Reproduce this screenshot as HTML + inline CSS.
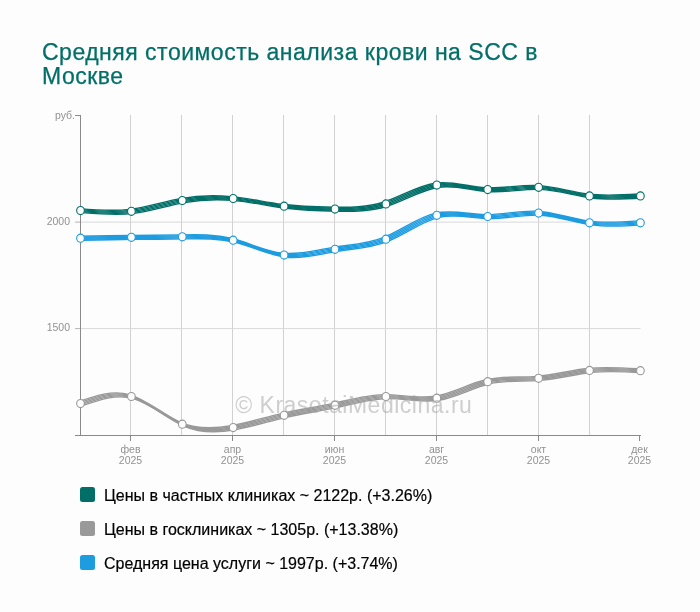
<!DOCTYPE html>
<html><head><meta charset="utf-8"><title>chart</title>
<style>
html,body{margin:0;padding:0;background:#fdfdfd;}
body{width:700px;height:612px;position:relative;overflow:hidden;font-family:"Liberation Sans",sans-serif;}
#wrap{position:absolute;left:0;top:0;width:700px;height:612px;opacity:0.999;will-change:transform;}
.title{position:absolute;left:42px;top:41.3px;width:560px;font-size:23px;letter-spacing:0.5px;line-height:23.4px;color:#006f68;-webkit-text-stroke:0.25px #006f68;}
.leg{position:absolute;left:80px;height:15px;font-size:16px;line-height:15px;color:#000;-webkit-text-stroke:0.2px #000;white-space:nowrap;}
.leg i{position:absolute;left:0;top:0;width:15px;height:15px;border-radius:2.5px;display:block;}
.leg span{position:absolute;left:24px;top:1px;}
</style></head><body><div id="wrap">
<svg width="700" height="612" viewBox="0 0 700 612" style="position:absolute;left:0;top:0"><g stroke="#d1d1d1" stroke-width="1" shape-rendering="crispEdges"><line x1="130.5" y1="115" x2="130.5" y2="435"/><line x1="181.5" y1="115" x2="181.5" y2="435"/><line x1="232.5" y1="115" x2="232.5" y2="435"/><line x1="283.5" y1="115" x2="283.5" y2="435"/><line x1="334.5" y1="115" x2="334.5" y2="435"/><line x1="385.5" y1="115" x2="385.5" y2="435"/><line x1="436.5" y1="115" x2="436.5" y2="435"/><line x1="487.5" y1="115" x2="487.5" y2="435"/><line x1="538.5" y1="115" x2="538.5" y2="435"/><line x1="589.5" y1="115" x2="589.5" y2="435"/></g><g stroke-width="1"><line x1="81" y1="222.1" x2="640.5" y2="222.1" stroke="#d9d9d9"/><line x1="75" y1="222.1" x2="80" y2="222.1" stroke="#b5b5b5"/><line x1="81" y1="328.6" x2="640.5" y2="328.6" stroke="#d9d9d9"/><line x1="75" y1="328.6" x2="80" y2="328.6" stroke="#b5b5b5"/></g><g stroke="#8a8a8a" stroke-width="1" fill="none" shape-rendering="crispEdges"><path d="M75,115.5H80.5V435.5"/><path d="M75,435.5H641"/><line x1="130.5" y1="435.5" x2="130.5" y2="440.6"/><line x1="232.5" y1="435.5" x2="232.5" y2="440.6"/><line x1="334.5" y1="435.5" x2="334.5" y2="440.6"/><line x1="436.5" y1="435.5" x2="436.5" y2="440.6"/><line x1="538.5" y1="435.5" x2="538.5" y2="440.6"/><line x1="639.5" y1="435.5" x2="639.5" y2="440.6"/></g><g fill="none" stroke="#999999" stroke-width="1.4" stroke-linecap="round" stroke-linejoin="round"><path transform="translate(-2.00,-1.70)" d="M80.50,403.40C97.47,397.45 114.43,391.50 131.40,396.30C148.37,401.10 165.33,416.65 182.30,424.00C199.27,431.35 216.23,430.49 233.20,427.40C250.17,424.31 267.13,418.98 284.10,415.10C301.07,411.22 318.03,408.78 335.00,405.10C351.97,401.42 368.93,396.49 385.90,396.30C402.87,396.11 419.83,400.66 436.80,398.00C453.77,395.34 470.73,385.46 487.70,381.50C504.67,377.54 521.63,379.48 538.60,378.10C555.57,376.72 572.53,372.02 589.50,370.20C606.47,368.38 623.43,369.44 640.40,370.50"/><path transform="translate(-1.00,-0.70)" d="M80.50,403.40C97.47,397.45 114.43,391.50 131.40,396.30C148.37,401.10 165.33,416.65 182.30,424.00C199.27,431.35 216.23,430.49 233.20,427.40C250.17,424.31 267.13,418.98 284.10,415.10C301.07,411.22 318.03,408.78 335.00,405.10C351.97,401.42 368.93,396.49 385.90,396.30C402.87,396.11 419.83,400.66 436.80,398.00C453.77,395.34 470.73,385.46 487.70,381.50C504.67,377.54 521.63,379.48 538.60,378.10C555.57,376.72 572.53,372.02 589.50,370.20C606.47,368.38 623.43,369.44 640.40,370.50"/><path transform="translate(0.00,0.30)" d="M80.50,403.40C97.47,397.45 114.43,391.50 131.40,396.30C148.37,401.10 165.33,416.65 182.30,424.00C199.27,431.35 216.23,430.49 233.20,427.40C250.17,424.31 267.13,418.98 284.10,415.10C301.07,411.22 318.03,408.78 335.00,405.10C351.97,401.42 368.93,396.49 385.90,396.30C402.87,396.11 419.83,400.66 436.80,398.00C453.77,395.34 470.73,385.46 487.70,381.50C504.67,377.54 521.63,379.48 538.60,378.10C555.57,376.72 572.53,372.02 589.50,370.20C606.47,368.38 623.43,369.44 640.40,370.50"/><path transform="translate(1.00,1.30)" d="M80.50,403.40C97.47,397.45 114.43,391.50 131.40,396.30C148.37,401.10 165.33,416.65 182.30,424.00C199.27,431.35 216.23,430.49 233.20,427.40C250.17,424.31 267.13,418.98 284.10,415.10C301.07,411.22 318.03,408.78 335.00,405.10C351.97,401.42 368.93,396.49 385.90,396.30C402.87,396.11 419.83,400.66 436.80,398.00C453.77,395.34 470.73,385.46 487.70,381.50C504.67,377.54 521.63,379.48 538.60,378.10C555.57,376.72 572.53,372.02 589.50,370.20C606.47,368.38 623.43,369.44 640.40,370.50"/><path transform="translate(2.00,2.30)" d="M80.50,403.40C97.47,397.45 114.43,391.50 131.40,396.30C148.37,401.10 165.33,416.65 182.30,424.00C199.27,431.35 216.23,430.49 233.20,427.40C250.17,424.31 267.13,418.98 284.10,415.10C301.07,411.22 318.03,408.78 335.00,405.10C351.97,401.42 368.93,396.49 385.90,396.30C402.87,396.11 419.83,400.66 436.80,398.00C453.77,395.34 470.73,385.46 487.70,381.50C504.67,377.54 521.63,379.48 538.60,378.10C555.57,376.72 572.53,372.02 589.50,370.20C606.47,368.38 623.43,369.44 640.40,370.50"/></g><g fill="#fdfdfd" stroke="#999999" stroke-width="1.1"><ellipse cx="80.50" cy="403.60" rx="3.85" ry="4.05"/><ellipse cx="131.40" cy="396.50" rx="3.85" ry="4.05"/><ellipse cx="182.30" cy="424.20" rx="3.85" ry="4.05"/><ellipse cx="233.20" cy="427.60" rx="3.85" ry="4.05"/><ellipse cx="284.10" cy="415.30" rx="3.85" ry="4.05"/><ellipse cx="335.00" cy="405.30" rx="3.85" ry="4.05"/><ellipse cx="385.90" cy="396.50" rx="3.85" ry="4.05"/><ellipse cx="436.80" cy="398.20" rx="3.85" ry="4.05"/><ellipse cx="487.70" cy="381.70" rx="3.85" ry="4.05"/><ellipse cx="538.60" cy="378.30" rx="3.85" ry="4.05"/><ellipse cx="589.50" cy="370.40" rx="3.85" ry="4.05"/><ellipse cx="640.40" cy="370.70" rx="3.85" ry="4.05"/></g><g fill="none" stroke="#1d9ce0" stroke-width="1.4" stroke-linecap="round" stroke-linejoin="round"><path transform="translate(-2.00,-1.70)" d="M80.50,238.00C97.47,237.65 114.43,237.30 131.40,237.10C148.37,236.90 165.33,236.87 182.30,236.60C199.27,236.33 216.23,235.84 233.20,240.00C250.17,244.16 267.13,252.98 284.10,254.90C301.07,256.82 318.03,251.86 335.00,249.10C351.97,246.34 368.93,245.80 385.90,239.00C402.87,232.20 419.83,219.13 436.80,215.10C453.77,211.07 470.73,216.06 487.70,216.30C504.67,216.54 521.63,212.01 538.60,212.90C555.57,213.79 572.53,220.08 589.50,222.60C606.47,225.12 623.43,223.86 640.40,222.60"/><path transform="translate(-1.00,-0.70)" d="M80.50,238.00C97.47,237.65 114.43,237.30 131.40,237.10C148.37,236.90 165.33,236.87 182.30,236.60C199.27,236.33 216.23,235.84 233.20,240.00C250.17,244.16 267.13,252.98 284.10,254.90C301.07,256.82 318.03,251.86 335.00,249.10C351.97,246.34 368.93,245.80 385.90,239.00C402.87,232.20 419.83,219.13 436.80,215.10C453.77,211.07 470.73,216.06 487.70,216.30C504.67,216.54 521.63,212.01 538.60,212.90C555.57,213.79 572.53,220.08 589.50,222.60C606.47,225.12 623.43,223.86 640.40,222.60"/><path transform="translate(0.00,0.30)" d="M80.50,238.00C97.47,237.65 114.43,237.30 131.40,237.10C148.37,236.90 165.33,236.87 182.30,236.60C199.27,236.33 216.23,235.84 233.20,240.00C250.17,244.16 267.13,252.98 284.10,254.90C301.07,256.82 318.03,251.86 335.00,249.10C351.97,246.34 368.93,245.80 385.90,239.00C402.87,232.20 419.83,219.13 436.80,215.10C453.77,211.07 470.73,216.06 487.70,216.30C504.67,216.54 521.63,212.01 538.60,212.90C555.57,213.79 572.53,220.08 589.50,222.60C606.47,225.12 623.43,223.86 640.40,222.60"/><path transform="translate(1.00,1.30)" d="M80.50,238.00C97.47,237.65 114.43,237.30 131.40,237.10C148.37,236.90 165.33,236.87 182.30,236.60C199.27,236.33 216.23,235.84 233.20,240.00C250.17,244.16 267.13,252.98 284.10,254.90C301.07,256.82 318.03,251.86 335.00,249.10C351.97,246.34 368.93,245.80 385.90,239.00C402.87,232.20 419.83,219.13 436.80,215.10C453.77,211.07 470.73,216.06 487.70,216.30C504.67,216.54 521.63,212.01 538.60,212.90C555.57,213.79 572.53,220.08 589.50,222.60C606.47,225.12 623.43,223.86 640.40,222.60"/><path transform="translate(2.00,2.30)" d="M80.50,238.00C97.47,237.65 114.43,237.30 131.40,237.10C148.37,236.90 165.33,236.87 182.30,236.60C199.27,236.33 216.23,235.84 233.20,240.00C250.17,244.16 267.13,252.98 284.10,254.90C301.07,256.82 318.03,251.86 335.00,249.10C351.97,246.34 368.93,245.80 385.90,239.00C402.87,232.20 419.83,219.13 436.80,215.10C453.77,211.07 470.73,216.06 487.70,216.30C504.67,216.54 521.63,212.01 538.60,212.90C555.57,213.79 572.53,220.08 589.50,222.60C606.47,225.12 623.43,223.86 640.40,222.60"/></g><g fill="#fdfdfd" stroke="#1d9ce0" stroke-width="1.1"><ellipse cx="80.50" cy="238.20" rx="3.85" ry="4.05"/><ellipse cx="131.40" cy="237.30" rx="3.85" ry="4.05"/><ellipse cx="182.30" cy="236.80" rx="3.85" ry="4.05"/><ellipse cx="233.20" cy="240.20" rx="3.85" ry="4.05"/><ellipse cx="284.10" cy="255.10" rx="3.85" ry="4.05"/><ellipse cx="335.00" cy="249.30" rx="3.85" ry="4.05"/><ellipse cx="385.90" cy="239.20" rx="3.85" ry="4.05"/><ellipse cx="436.80" cy="215.30" rx="3.85" ry="4.05"/><ellipse cx="487.70" cy="216.50" rx="3.85" ry="4.05"/><ellipse cx="538.60" cy="213.10" rx="3.85" ry="4.05"/><ellipse cx="589.50" cy="222.80" rx="3.85" ry="4.05"/><ellipse cx="640.40" cy="222.80" rx="3.85" ry="4.05"/></g><g fill="none" stroke="#006f68" stroke-width="1.4" stroke-linecap="round" stroke-linejoin="round"><path transform="translate(-2.00,-1.70)" d="M80.50,210.30C97.47,211.74 114.43,213.19 131.40,211.10C148.37,209.01 165.33,203.39 182.30,200.30C199.27,197.21 216.23,196.65 233.20,198.30C250.17,199.95 267.13,203.82 284.10,206.00C301.07,208.18 318.03,208.66 335.00,208.90C351.97,209.14 368.93,209.15 385.90,203.70C402.87,198.25 419.83,187.36 436.80,184.90C453.77,182.44 470.73,188.43 487.70,189.40C504.67,190.37 521.63,186.33 538.60,187.10C555.57,187.87 572.53,193.46 589.50,195.70C606.47,197.94 623.43,196.82 640.40,195.70"/><path transform="translate(-1.00,-0.70)" d="M80.50,210.30C97.47,211.74 114.43,213.19 131.40,211.10C148.37,209.01 165.33,203.39 182.30,200.30C199.27,197.21 216.23,196.65 233.20,198.30C250.17,199.95 267.13,203.82 284.10,206.00C301.07,208.18 318.03,208.66 335.00,208.90C351.97,209.14 368.93,209.15 385.90,203.70C402.87,198.25 419.83,187.36 436.80,184.90C453.77,182.44 470.73,188.43 487.70,189.40C504.67,190.37 521.63,186.33 538.60,187.10C555.57,187.87 572.53,193.46 589.50,195.70C606.47,197.94 623.43,196.82 640.40,195.70"/><path transform="translate(0.00,0.30)" d="M80.50,210.30C97.47,211.74 114.43,213.19 131.40,211.10C148.37,209.01 165.33,203.39 182.30,200.30C199.27,197.21 216.23,196.65 233.20,198.30C250.17,199.95 267.13,203.82 284.10,206.00C301.07,208.18 318.03,208.66 335.00,208.90C351.97,209.14 368.93,209.15 385.90,203.70C402.87,198.25 419.83,187.36 436.80,184.90C453.77,182.44 470.73,188.43 487.70,189.40C504.67,190.37 521.63,186.33 538.60,187.10C555.57,187.87 572.53,193.46 589.50,195.70C606.47,197.94 623.43,196.82 640.40,195.70"/><path transform="translate(1.00,1.30)" d="M80.50,210.30C97.47,211.74 114.43,213.19 131.40,211.10C148.37,209.01 165.33,203.39 182.30,200.30C199.27,197.21 216.23,196.65 233.20,198.30C250.17,199.95 267.13,203.82 284.10,206.00C301.07,208.18 318.03,208.66 335.00,208.90C351.97,209.14 368.93,209.15 385.90,203.70C402.87,198.25 419.83,187.36 436.80,184.90C453.77,182.44 470.73,188.43 487.70,189.40C504.67,190.37 521.63,186.33 538.60,187.10C555.57,187.87 572.53,193.46 589.50,195.70C606.47,197.94 623.43,196.82 640.40,195.70"/><path transform="translate(2.00,2.30)" d="M80.50,210.30C97.47,211.74 114.43,213.19 131.40,211.10C148.37,209.01 165.33,203.39 182.30,200.30C199.27,197.21 216.23,196.65 233.20,198.30C250.17,199.95 267.13,203.82 284.10,206.00C301.07,208.18 318.03,208.66 335.00,208.90C351.97,209.14 368.93,209.15 385.90,203.70C402.87,198.25 419.83,187.36 436.80,184.90C453.77,182.44 470.73,188.43 487.70,189.40C504.67,190.37 521.63,186.33 538.60,187.10C555.57,187.87 572.53,193.46 589.50,195.70C606.47,197.94 623.43,196.82 640.40,195.70"/></g><g fill="#fdfdfd" stroke="#006f68" stroke-width="1.1"><ellipse cx="80.50" cy="210.50" rx="3.85" ry="4.05"/><ellipse cx="131.40" cy="211.30" rx="3.85" ry="4.05"/><ellipse cx="182.30" cy="200.50" rx="3.85" ry="4.05"/><ellipse cx="233.20" cy="198.50" rx="3.85" ry="4.05"/><ellipse cx="284.10" cy="206.20" rx="3.85" ry="4.05"/><ellipse cx="335.00" cy="209.10" rx="3.85" ry="4.05"/><ellipse cx="385.90" cy="203.90" rx="3.85" ry="4.05"/><ellipse cx="436.80" cy="185.10" rx="3.85" ry="4.05"/><ellipse cx="487.70" cy="189.60" rx="3.85" ry="4.05"/><ellipse cx="538.60" cy="187.30" rx="3.85" ry="4.05"/><ellipse cx="589.50" cy="195.90" rx="3.85" ry="4.05"/><ellipse cx="640.40" cy="195.90" rx="3.85" ry="4.05"/></g><g opacity="0.55"><text x="353.8" y="412.5" text-anchor="middle" font-family="Liberation Sans, sans-serif" font-size="23" letter-spacing="0.5" fill="#a8a8a8">© KrasotaiMedicina.ru</text></g><g font-family="Liberation Sans, sans-serif" font-size="10.5" fill="#929292"><text x="75" y="119.4" text-anchor="end">руб.</text><text x="70" y="224.8" text-anchor="end">2000</text><text x="70" y="331" text-anchor="end">1500</text><text x="130.50" y="453" text-anchor="middle">фев</text><text x="130.50" y="464" text-anchor="middle">2025</text><text x="232.50" y="453" text-anchor="middle">апр</text><text x="232.50" y="464" text-anchor="middle">2025</text><text x="334.50" y="453" text-anchor="middle">июн</text><text x="334.50" y="464" text-anchor="middle">2025</text><text x="436.50" y="453" text-anchor="middle">авг</text><text x="436.50" y="464" text-anchor="middle">2025</text><text x="538.50" y="453" text-anchor="middle">окт</text><text x="538.50" y="464" text-anchor="middle">2025</text><text x="639.50" y="453" text-anchor="middle">дек</text><text x="639.50" y="464" text-anchor="middle">2025</text></g></svg>
<div class="title">Средняя стоимость анализа крови на SCC в Москве</div>
<div class="leg" style="top:487px"><i style="background:#006f68"></i><span>Цены в частных клиниках ~ 2122р. (+3.26%)</span></div>
<div class="leg" style="top:521px"><i style="background:#999999"></i><span>Цены в госклиниках ~ 1305р. (+13.38%)</span></div>
<div class="leg" style="top:555px"><i style="background:#1d9ce0"></i><span>Средняя цена услуги ~ 1997р. (+3.74%)</span></div>
</div></body></html>
